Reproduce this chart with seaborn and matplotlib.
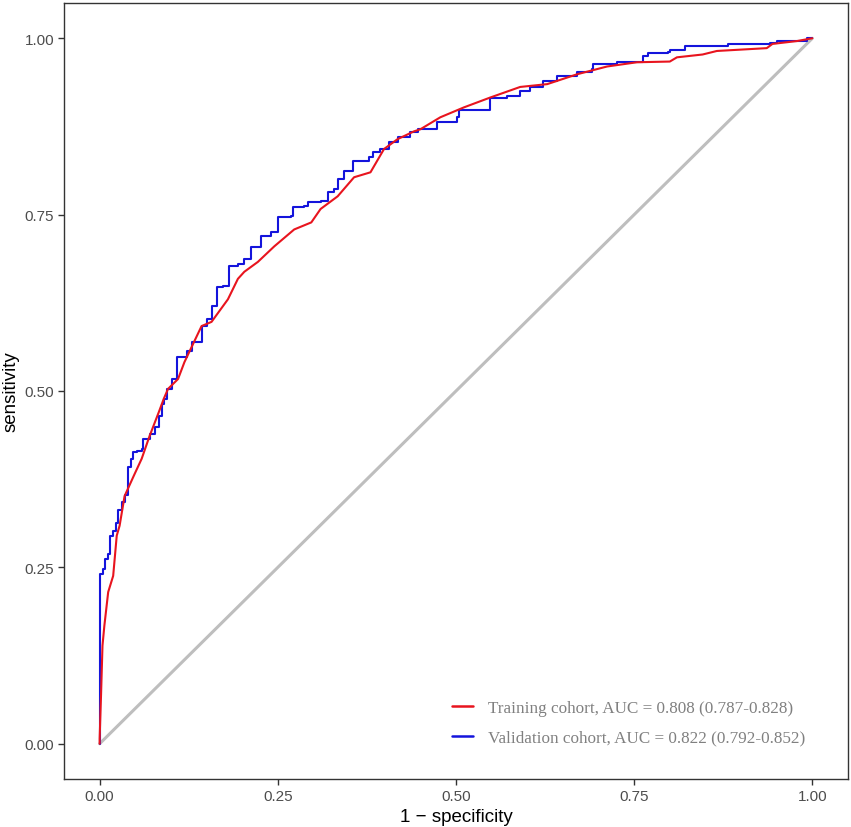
import numpy as np
import pandas as pd
import matplotlib
matplotlib.use("Agg")
import matplotlib.pyplot as plt
import seaborn as sns
from matplotlib.lines import Line2D

# Training cohort ROC (1 - specificity, sensitivity)
train_fpr = [0.0, 0.0, 0.002, 0.004, 0.0066, 0.012, 0.019, 0.024, 0.028, 0.035, 0.048, 0.059, 0.070,
             0.083, 0.090, 0.096, 0.110, 0.119, 0.143, 0.157, 0.180, 0.194, 0.203, 0.222,
             0.245, 0.273, 0.297, 0.310, 0.334, 0.357, 0.380, 0.399, 0.418, 0.441, 0.450,
             0.478, 0.511, 0.548, 0.590, 0.628, 0.670, 0.712, 0.754, 0.800, 0.810, 0.846,
             0.866, 0.936, 0.944, 0.978, 1.0]
train_tpr = [0.0, 0.007, 0.07, 0.139, 0.167, 0.215, 0.238, 0.295, 0.309, 0.351, 0.380, 0.404, 0.436,
             0.470, 0.489, 0.503, 0.517, 0.541, 0.592, 0.598, 0.630, 0.659, 0.669, 0.683,
             0.705, 0.729, 0.739, 0.758, 0.776, 0.803, 0.810, 0.843, 0.857, 0.868, 0.871,
             0.888, 0.902, 0.916, 0.931, 0.935, 0.949, 0.960, 0.966, 0.967, 0.973, 0.977,
             0.982, 0.986, 0.992, 0.996, 1.0]

# Validation cohort ROC
valid_fpr = [0.0, 0.0005, 0.005, 0.008, 0.012, 0.015, 0.019, 0.023, 0.026, 0.032, 0.035, 0.040,
             0.044, 0.047, 0.052, 0.059, 0.061, 0.070, 0.077, 0.083, 0.087, 0.091, 0.094,
             0.101, 0.108, 0.122, 0.129, 0.143, 0.150, 0.157, 0.164, 0.173, 0.182, 0.194,
             0.203, 0.213, 0.227, 0.241, 0.250, 0.269, 0.271, 0.287, 0.292, 0.310, 0.320,
             0.329, 0.334, 0.343, 0.355, 0.378, 0.383, 0.394, 0.406, 0.418, 0.429, 0.436,
             0.446, 0.474, 0.502, 0.504, 0.546, 0.548, 0.572, 0.590, 0.604, 0.622, 0.642,
             0.670, 0.691, 0.692, 0.726, 0.758, 0.762, 0.769, 0.797, 0.800, 0.821, 0.881,
             0.940, 0.950, 0.993, 1.0]
valid_tpr = [0.0, 0.241, 0.248, 0.262, 0.269, 0.295, 0.302, 0.313, 0.332, 0.343, 0.352, 0.392,
             0.404, 0.414, 0.415, 0.418, 0.432, 0.439, 0.449, 0.465, 0.482, 0.489, 0.503,
             0.517, 0.548, 0.557, 0.569, 0.592, 0.602, 0.621, 0.647, 0.649, 0.677, 0.680,
             0.687, 0.704, 0.720, 0.725, 0.746, 0.748, 0.761, 0.762, 0.768, 0.769, 0.782,
             0.786, 0.800, 0.812, 0.826, 0.831, 0.839, 0.843, 0.853, 0.860, 0.860, 0.867,
             0.871, 0.882, 0.888, 0.899, 0.899, 0.916, 0.918, 0.925, 0.931, 0.939, 0.946,
             0.952, 0.956, 0.963, 0.966, 0.967, 0.975, 0.979, 0.980, 0.984, 0.989, 0.992,
             0.994, 0.996, 1.0, 1.0]

labels = ["Training cohort, AUC = 0.808 (0.787-0.828)",
          "Validation cohort, AUC = 0.822 (0.792-0.852)"]
colors = ["#E8141E", "#1414DC"]
ticks = [0.0, 0.25, 0.5, 0.75, 1.0]
tick_labels = ["0.00", "0.25", "0.50", "0.75", "1.00"]

sns.set_style("white")
plt.rcParams["font.family"] = ["Liberation Sans", "DejaVu Sans"]

fig = plt.figure(figsize=(8.51, 8.28), dpi=100)
ax = fig.add_axes([64/851, 48/828, 784/851, 776/828])

diag = pd.DataFrame({"x": [0.0, 1.0], "y": [0.0, 1.0]})
sns.lineplot(data=diag, x="x", y="y", ax=ax, color="#BEBEBE", linewidth=2.2,
             estimator=None, sort=False)

dv = pd.DataFrame({"x": valid_fpr, "y": valid_tpr})
sns.lineplot(data=dv, x="x", y="y", ax=ax, color=colors[1], linewidth=1.5,
             estimator=None, sort=False, drawstyle="steps-post")
dt = pd.DataFrame({"x": train_fpr, "y": train_tpr})
sns.lineplot(data=dt, x="x", y="y", ax=ax, color=colors[0], linewidth=1.5,
             estimator=None, sort=False)

ax.set_xlim(-0.05, 1.05)
ax.set_ylim(-0.05, 1.05)
ax.set_xticks(ticks)
ax.set_xticklabels(tick_labels)
ax.set_yticks(ticks)
ax.set_yticklabels(tick_labels)
ax.tick_params(axis="both", which="major", length=4, width=1.0, color="#333333",
               labelcolor="#4D4D4D", labelsize=11, direction="out", pad=3,
               bottom=True, left=True)
ax.set_xlabel("1 \u2212 specificity", fontsize=13.5, color="black", labelpad=4)
ax.set_ylabel("sensitivity", fontsize=13.5, color="black", labelpad=4)
for s in ax.spines.values():
    s.set_color("#333333")
    s.set_linewidth(1.0)
ax.grid(False)

handles = [Line2D([], [], color=c, linewidth=1.8) for c in colors]
leg = ax.legend(handles, labels, loc="lower left", bbox_to_anchor=(0.495, 0.043),
                frameon=False, borderpad=0, borderaxespad=0,
                handlelength=1.2, handletextpad=0.9, labelspacing=0.8,
                prop={"family": "Liberation Serif", "size": 12.3})
for t in leg.get_texts():
    t.set_color("#808080")

fig.savefig("out.png", dpi=100, facecolor="white")
